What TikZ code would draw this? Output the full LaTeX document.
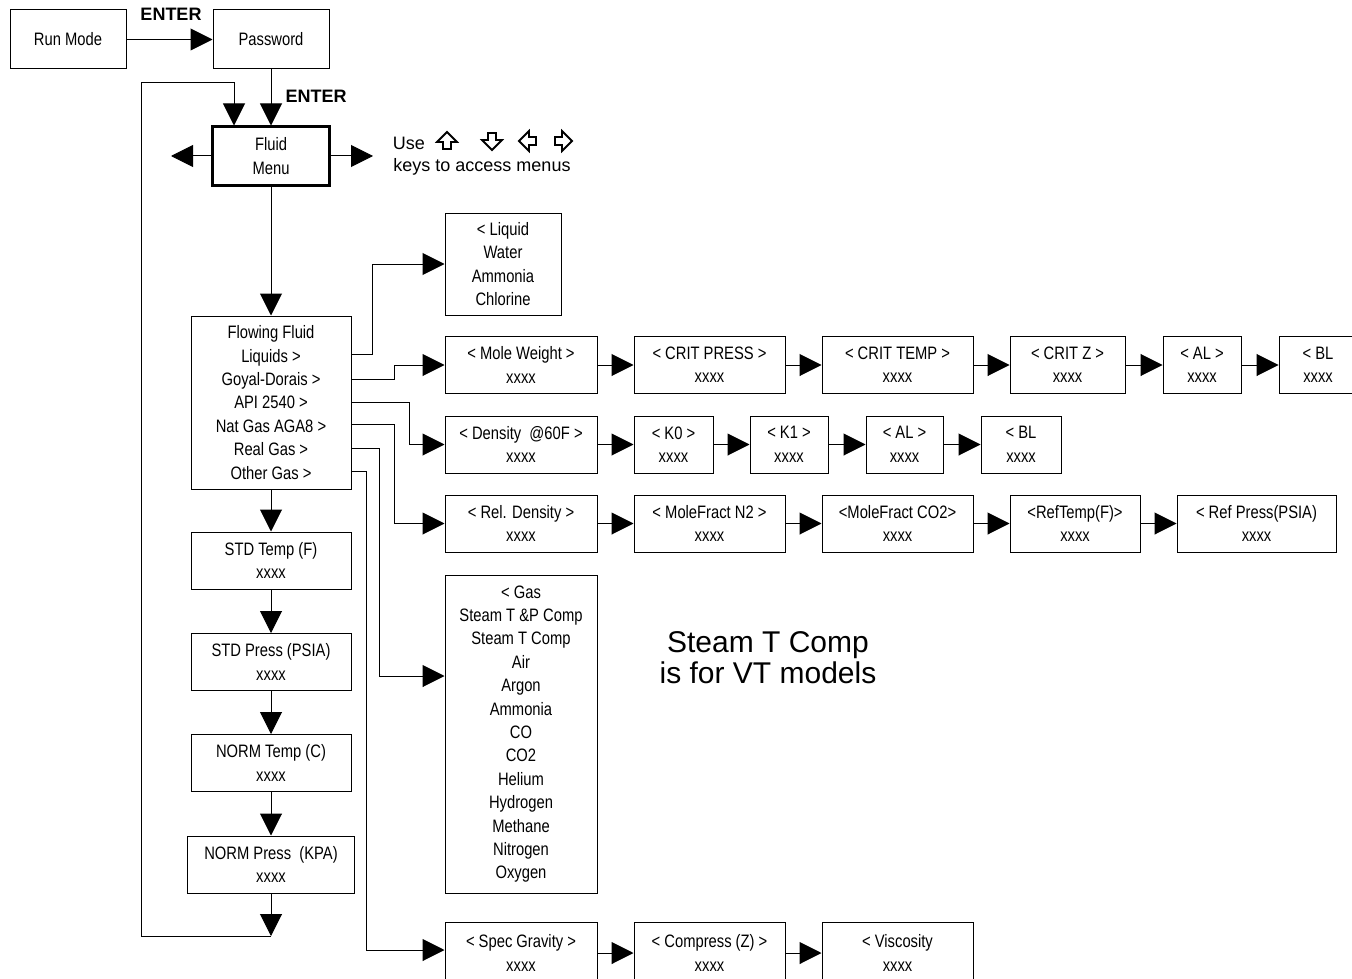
\documentclass[tikz,border=0pt]{standalone}
\usepackage{fontspec}
\setmainfont{Liberation Sans}
\newfontfamily\narrowfont{Liberation Sans}[FakeStretch=0.82]
\usetikzlibrary{arrows.meta}
\newcommand{\menufont}{\narrowfont\fontsize{18}{23.4}\selectfont}
% outlined cursor key: rotation, x, y
\newcommand{\keyarrow}[3]{%
  \draw[line width=1.8pt,line join=miter,shift={(#2,#3)},rotate=#1]
    (0,-9)--(10,1)--(4,1)--(4,8)--(-4,8)--(-4,1)--(-10,1)--cycle;}

\begin{document}
\begin{tikzpicture}[x=1pt,y=-1pt,
          menubox/.style={draw,line width=1pt,align=center,inner sep=0pt,
                          minimum height=57pt,font=\menufont},
          arr/.style={-{Triangle[length=22pt,width=22pt]},line width=1pt},
          keylabel/.style={font=\bfseries\fontsize{18}{20}\selectfont},
          hint/.style={font=\fontsize{18}{20}\selectfont},
        ]
        \useasboundingbox (0,0) rectangle (1352,979);
        \clip (0,0) rectangle (1352,979);

        % ENTRY
        \node[menubox,minimum width=116pt,minimum height=59pt](runmode) at (68,39.5){Run Mode};
        \node[menubox,minimum width=116pt,minimum height=59pt](passwd)  at (271,39.5){Password};
        \node[keylabel](enterA) at (171,14){ENTER};
        \node[menubox,line width=3pt,minimum width=117pt,minimum height=58pt](fluid) at (271,156){Fluid\\Menu};
        \node[keylabel](enterB) at (316,96){ENTER};
        \draw[arr](runmode)--(passwd);
        \draw[arr](passwd)--(fluid);
        \coordinate (goleft)  at (171,156);
        \coordinate (goright) at (373,156);
        \draw[arr](fluid.west)--(goleft);
        \draw[arr](fluid.east)--(goright);

        % KEYS
        \node[hint](use) at (409,143){Use};
        \keyarrow{0}{447}{141}
        \keyarrow{180}{492}{141}
        \keyarrow{90}{528}{141}
        \keyarrow{-90}{563}{141}
        \node[hint](keystext) at (482,167){keys to access menus};

        % LEFT COLUMN
        \node[menubox,minimum width=160pt,minimum height=173pt](flow) at (271,402.5)
          {Flowing Fluid\\Liquids >\\Goyal-Dorais >\\API 2540 >\\Nat Gas AGA8 >\\Real Gas >\\Other Gas >};
        \node[menubox,minimum width=160pt](stdtemp)   at (271,560.5){STD Temp (F)\\xxxx};
        \node[menubox,minimum width=160pt](stdpress)  at (271,662){STD Press (PSIA)\\xxxx};
        \node[menubox,minimum width=160pt](normtemp)  at (271,763){NORM Temp (C)\\xxxx};
        \node[menubox,minimum width=167pt](normpress) at (271,864.5){NORM Press\ \ (KPA)\\xxxx};
        \draw[arr](fluid)--(flow);
        \draw[arr](flow)--(stdtemp);
        \draw[arr](stdtemp)--(stdpress);
        \draw[arr](stdpress)--(normtemp);
        \draw[arr](normtemp)--(normpress);
        \coordinate (loopend)  at (271,936);
        \coordinate (loopturn) at (141,83);
        \draw[arr](normpress)--(loopend);
        \draw[arr](loopend)-|(loopturn)-|([xshift=-37pt]fluid.north);

        % LIQUIDS
        \node[menubox,minimum width=116pt,minimum height=102pt](liquid) at (503,264)
          {< Liquid\\Water\\Ammonia\\Chlorine};

        % GOYAL-DORAIS
        \node[menubox,minimum width=152pt](moleweight) at (521,365){< Mole Weight >\\xxxx};
        \node[menubox,minimum width=151pt](critpress)  at (709.5,365){< CRIT PRESS >\\xxxx};
        \node[menubox,minimum width=151pt](crittemp)   at (897.5,365){< CRIT TEMP >\\xxxx};
        \node[menubox,minimum width=115pt](critz)      at (1067.5,365){< CRIT Z >\\xxxx};
        \node[menubox,minimum width=78pt](alA)         at (1202,365){< AL >\\xxxx};
        \node[menubox,minimum width=78pt](blA)         at (1318,365){< BL\\xxxx};
        \draw[arr](moleweight)--(critpress);
        \draw[arr](critpress)--(crittemp);
        \draw[arr](crittemp)--(critz);
        \draw[arr](critz)--(alA);
        \draw[arr](alA)--(blA);

        % API 2540
        \node[menubox,minimum width=152pt](density) at (521,444.5){< Density\ \ @60F >\\xxxx};
        \node[menubox,minimum width=79pt](kzero)    at (673.5,444.5){< K0 >\\xxxx};
        \node[menubox,minimum width=78pt](kone)     at (789,444.5){< K1 >\\xxxx};
        \node[menubox,minimum width=77pt](alB)      at (904.5,444.5){< AL >\\xxxx};
        \node[menubox,minimum width=80pt](blB)      at (1021,444.5){< BL\\xxxx};
        \draw[arr](density)--(kzero);
        \draw[arr](kzero)--(kone);
        \draw[arr](kone)--(alB);
        \draw[arr](alB)--(blB);

        % NAT GAS AGA8
        \node[menubox,minimum width=152pt](reldens)  at (521,523.5){< Rel. Density >\\xxxx};
        \node[menubox,minimum width=151pt](molenit)  at (709.5,523.5){< MoleFract N2 >\\xxxx};
        \node[menubox,minimum width=151pt](molecarb) at (897.5,523.5){<MoleFract CO2>\\xxxx};
        \node[menubox,minimum width=130pt](reftemp)  at (1075,523.5){<RefTemp(F)>\\xxxx};
        \node[menubox,minimum width=159pt](refpress) at (1256.5,523.5){< Ref Press(PSIA)\\xxxx};
        \draw[arr](reldens)--(molenit);
        \draw[arr](molenit)--(molecarb);
        \draw[arr](molecarb)--(reftemp);
        \draw[arr](reftemp)--(refpress);

        % REAL GAS
        \node[menubox,minimum width=152pt,minimum height=318pt](gas) at (521,734)
          {< Gas\\Steam T \&P Comp\\Steam T Comp\\Air\\Argon\\Ammonia\\CO\\CO2\\Helium\\Hydrogen\\Methane\\Nitrogen\\Oxygen};
        \node[font=\fontsize{30}{31}\selectfont,align=center](note) at (768,658)
          {Steam T Comp\\is for VT models};

        % OTHER GAS
        \node[menubox,minimum width=152pt,minimum height=62pt](specgrav)  at (521,953){< Spec Gravity >\\xxxx};
        \node[menubox,minimum width=151pt,minimum height=62pt](compress)  at (709.5,953){< Compress (Z) >\\xxxx};
        \node[menubox,minimum width=151pt,minimum height=62pt](viscosity) at (897.5,953){< Viscosity\\xxxx};
        \draw[arr](specgrav)--(compress);
        \draw[arr](compress)--(viscosity);

        % BRANCHES
        \draw[arr](flow.east |- 0,354)--(372,354)|-(liquid.west);
        \draw[arr](flow.east |- 0,379)--(394,379)|-(moleweight.west);
        \draw[arr](flow.east |- 0,402)--(409,402)|-(density.west);
        \draw[arr](flow.east |- 0,424)--(394,424)|-(reldens.west);
        \draw[arr](flow.east |- 0,448)--(379,448)|-(gas.west |- 0,676);
        \draw[arr](flow.east |- 0,471)--(366,471)|-(specgrav.west |- 0,950);
      \end{tikzpicture}
\end{document}
